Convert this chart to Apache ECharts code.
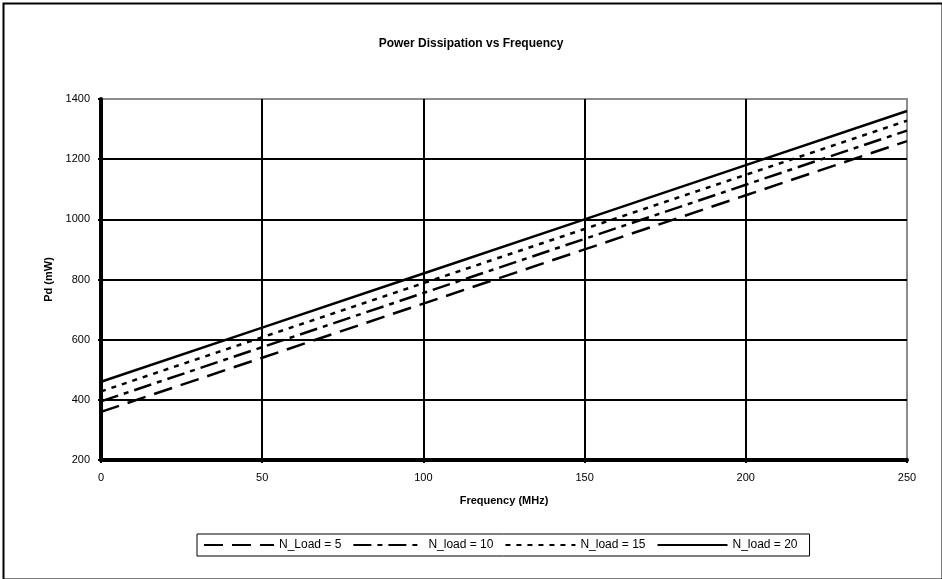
<!DOCTYPE html>
<html>
<head>
<meta charset="utf-8">
<script src="https://cdn.jsdelivr.net/npm/echarts@6/dist/echarts.min.js"></script>
<style>
html,body{margin:0;padding:0;background:#fff;}
#chart{width:942px;height:579px;}
</style>
</head>
<body>
<div id="chart"></div>
<script>
var frequency = [0, 50, 100, 150, 200, 250];
var nLoad5  = [360, 540, 720, 900, 1080, 1260];
var nLoad10 = [395, 575, 755, 935, 1115, 1295];
var nLoad15 = [428, 608, 788, 968, 1148, 1328];
var nLoad20 = [460, 640, 820, 1000, 1180, 1360];
var seriesNames = ['N_Load = 5', 'N_load = 10', 'N_load = 15', 'N_load = 20'];

function pairs(ys) { return frequency.map(function (x, i) { return [x, ys[i]]; }); }

var FONT = 'Arial, "Liberation Sans", sans-serif';
var chart = echarts.init(document.getElementById('chart'), null, {renderer: 'canvas'});

var dashStyles = [[19, 9], [18, 6, 5, 6], [5, 6], 'solid'];
var allData = [nLoad5, nLoad10, nLoad15, nLoad20];

chart.setOption({
  animation: false,
  backgroundColor: '#fff',
  title: {
    text: 'Power Dissipation vs Frequency',
    left: 'center',
    top: 33,
    textStyle: {fontFamily: FONT, fontSize: 12, fontWeight: 'bold', color: '#000'}
  },
  graphic: [{
    type: 'rect', left: 1, top: 1, z: 100,
    shape: {width: 939, height: 576},
    style: {fill: 'none', stroke: '#000', lineWidth: 2}
  }],
  legend: {
    left: 197, top: 534,
    orient: 'horizontal',
    itemWidth: 70, itemHeight: 14, itemGap: 11,
    padding: [5, 12, 5, 6],
    borderColor: '#000', borderWidth: 1,
    itemStyle: {opacity: 0},
    textStyle: {fontFamily: FONT, fontSize: 12, color: '#000'},
    data: seriesNames
  },
  grid: {
    left: 101, right: 35, top: 99, bottom: 119,
    show: true, borderColor: '#8c8c8c', borderWidth: 2,
    backgroundColor: '#fff'
  },
  xAxis: {
    type: 'value', min: 0, max: 250, interval: 50,
    name: 'Frequency (MHz)', nameLocation: 'middle', nameGap: 35,
    nameTextStyle: {fontFamily: FONT, fontSize: 11, fontWeight: 'bold', color: '#000'},
    axisLine: {show: true, onZero: false, lineStyle: {color: '#000', width: 4}},
    axisTick: {show: true, length: 3, lineStyle: {color: '#000', width: 2}},
    axisLabel: {fontFamily: FONT, fontSize: 11, color: '#000', margin: 12},
    splitLine: {show: true, showMinLine: false, showMaxLine: false, lineStyle: {color: '#000', width: 2}}
  },
  yAxis: {
    type: 'value', min: 200, max: 1400, interval: 200,
    name: 'Pd (mW)', nameLocation: 'middle', nameGap: 42, nameRotate: 90,
    nameTextStyle: {fontFamily: FONT, fontSize: 11, fontWeight: 'bold', color: '#000'},
    axisLine: {show: true, onZero: false, lineStyle: {color: '#000', width: 4}},
    axisTick: {show: true, length: 3, lineStyle: {color: '#000', width: 2}},
    axisLabel: {fontFamily: FONT, fontSize: 11, color: '#000', margin: 11,
      formatter: function (v) { return String(v); }},
    splitLine: {show: true, showMinLine: false, showMaxLine: false, lineStyle: {color: '#000', width: 2}}
  },
  series: seriesNames.map(function (name, i) {
    return {
      name: name,
      type: 'line',
      data: pairs(allData[i]),
      symbol: 'none',
      z: 5,
      lineStyle: {color: '#000', width: 2.5, type: dashStyles[i]},
      itemStyle: {color: '#000'}
    };
  })
});
</script>
</body>
</html>
